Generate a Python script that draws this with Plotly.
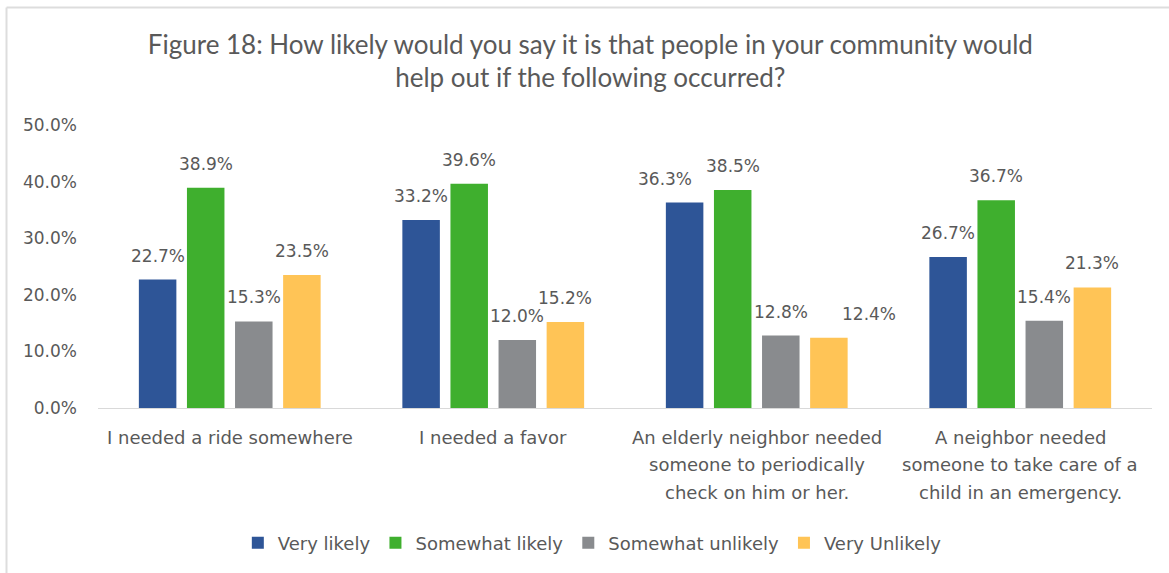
import plotly.graph_objects as go

# Survey responses: share of respondents per answer, by scenario
categories = [
    "I needed a ride somewhere",
    "I needed a favor",
    "An elderly neighbor needed someone to periodically check on him or her.",
    "A neighbor needed someone to take care of a child in an emergency.",
]
category_lines = [
    ["I needed a ride somewhere"],
    ["I needed a favor"],
    ["An elderly neighbor needed", "someone to periodically", "check on him or her."],
    ["A neighbor needed", "someone to take care of a", "child in an emergency."],
]
series_names = ["Very likely", "Somewhat likely", "Somewhat unlikely", "Very Unlikely"]
very_likely = [22.7, 33.2, 36.3, 26.7]
somewhat_likely = [38.9, 39.6, 38.5, 36.7]
somewhat_unlikely = [15.3, 12.0, 12.8, 15.4]
very_unlikely = [23.5, 15.2, 12.4, 21.3]
y_ticks = [0, 10, 20, 30, 40, 50]

series_values = [very_likely, somewhat_likely, somewhat_unlikely, very_unlikely]
colors = ["#2E5597", "#3FAF2E", "#898B8E", "#FFC456"]

# small horizontal nudges for crowded value labels: (series, category) -> px
label_nudge = {(0, 2): -20, (3, 2): 40}

TEXT = "#595959"
BODY_FONT = "DejaVu Sans, sans-serif"
TITLE_FONT = "Lato, Open Sans, sans-serif"

W, H = 1169, 573
M_L, M_R, M_T, M_B = 98, 17, 125, 165
BARGAP, BARGROUPGAP = 0.27, 0.22

fig = go.Figure()
for name, vals, col in zip(series_names, series_values, colors):
    fig.add_trace(go.Bar(
        x=categories, y=vals, name=name,
        marker=dict(color=col, line=dict(width=0)),
        hovertemplate="%{y:.1f}%<extra>" + name + "</extra>",
    ))

# value labels above each bar, offset to the bar's slot within its group
plot_w = W - M_L - M_R
slot_px = plot_w / len(categories) * (1 - BARGAP) / len(series_names)
for si, vals in enumerate(series_values):
    base_shift = (si - (len(series_names) - 1) / 2) * slot_px
    for ci, (cat, v) in enumerate(zip(categories, vals)):
        fig.add_annotation(
            x=cat, xref="x", y=v, yref="y", text=f"{v:.1f}%", showarrow=False,
            xanchor="center", yanchor="middle",
            xshift=base_shift + label_nudge.get((si, ci), 0), yshift=24,
            font=dict(family=BODY_FONT, size=17, color=TEXT),
        )

# multi-line category labels under each group
for cat, lines in zip(categories, category_lines):
    for i, line in enumerate(lines):
        fig.add_annotation(
            x=cat, xref="x", y=0, yref="y", text=line, showarrow=False,
            yanchor="middle", yshift=-29 - 27.5 * i,
            font=dict(family=BODY_FONT, size=18, color=TEXT),
        )

fig.update_layout(
    width=W, height=H,
    margin=dict(l=M_L, r=M_R, t=M_T, b=M_B),
    paper_bgcolor="white", plot_bgcolor="white",
    barmode="group", bargap=BARGAP, bargroupgap=BARGROUPGAP,
    title=dict(
        text="Figure 18: How likely would you say it is that people in your community would<br>help out if the following occurred?",
        x=0.505, xanchor="center", y=0.9065, yanchor="middle",
        font=dict(family=TITLE_FONT, size=26, color=TEXT),
    ),
    xaxis=dict(showticklabels=False, showline=True, linecolor="#D9D9D9",
               linewidth=1, ticks=""),
    yaxis=dict(range=[0, 50], tickvals=y_ticks,
               ticktext=[f"{t:.1f}%" for t in y_ticks],
               showgrid=False, zeroline=False, showline=False,
               tickfont=dict(family=BODY_FONT, size=17, color=TEXT),
               ticklabelstandoff=20),
    legend=dict(orientation="h", x=0.469, xanchor="center", y=-0.477,
                yanchor="middle", font=dict(family=BODY_FONT, size=18, color=TEXT),
                itemwidth=30, traceorder="normal"),
    showlegend=True,
)

# chart frame: top and left edges
fig.add_shape(type="line", xref="paper", yref="paper", x0=-0.0868, x1=1.02,
              y0=1.415, y1=1.415, line=dict(color="#DDDDDD", width=2))
fig.add_shape(type="line", xref="paper", yref="paper", x0=-0.0868, x1=-0.0868,
              y0=1.415, y1=-0.6, line=dict(color="#DDDDDD", width=2))

fig.write_html("out.html")
